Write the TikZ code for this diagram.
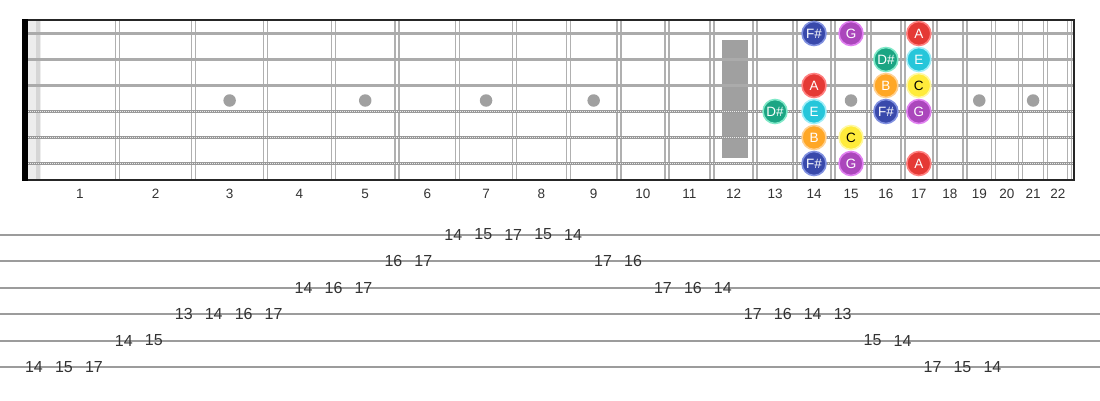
\documentclass[tikz,border=0pt]{standalone}
\usepackage{fontspec}
\setmainfont{Liberation Sans}
\definecolor{fretc}{HTML}{B0B0B0}
\definecolor{markc}{HTML}{A0A0A0}
\definecolor{strc}{HTML}{ABABAB}
\definecolor{tabc}{HTML}{9C9C9C}
\definecolor{txtc}{HTML}{333333}
\definecolor{cFs}{HTML}{3949AB}\definecolor{rFs}{HTML}{8090E0}
\definecolor{cG}{HTML}{AB47BC}\definecolor{rG}{HTML}{E080F0}
\definecolor{cA}{HTML}{E53935}\definecolor{rA}{HTML}{FF8080}
\definecolor{cDs}{HTML}{1BA583}\definecolor{rDs}{HTML}{80E8C8}
\definecolor{cE}{HTML}{26C6DA}\definecolor{rE}{HTML}{A0EEF8}
\definecolor{cB}{HTML}{FFA726}\definecolor{rB}{HTML}{FFD090}
\definecolor{cC}{HTML}{FFEB3B}\definecolor{rC}{HTML}{FFF8A0}
\tikzset{
  declare function={fretx(\n)=37.5+1435*(1-pow(2,-\n/12));
                    midx(\n)=(\n==1)?80:(fretx(\n)+fretx(\n-1))/2;},
  fretline/.style={draw=fretc,line width=1.4pt},
  plainstring/.style={draw=strc,line width=2.6pt},
  woundstring/.style={draw=gray!80,line width=3.4pt},
  woundtex/.style={draw=white!85!gray,line width=1.3pt,dash pattern=on 0.8pt off 1.2pt},
  inlay/.style={circle,fill=markc,inner sep=0pt,minimum size=12.5pt},
  notebox/.style={circle,inner sep=0pt,minimum size=24pt,line width=1.6pt,font=\fontsize{13.5}{13.5}\selectfont,text=white},
  fretlabel/.style={font=\fontsize{13.5}{13.5}\selectfont,text=txtc},
  tabline/.style={draw=tabc,line width=2pt},
  tabnum/.style={font=\fontsize{16}{16}\selectfont,text=txtc,inner sep=0pt},
}
\begin{document}
\begin{tikzpicture}[x=1pt,y=-1pt]
\useasboundingbox (0,0) rectangle (1100,400);
% nut strip
\fill[gray!14] (28,20) rectangle (41,180);
\fill[gray!32] (35.5,20) rectangle (40,180);
% frets
\foreach \n in {1,...,22}{
  \pgfmathsetmacro\fx{fretx(\n)}
  \draw[fretline] (\fx-2,20) -- (\fx-2,180);
  \draw[fretline] (\fx+2,20) -- (\fx+2,180);
  \pgfmathsetmacro\mx{midx(\n)}
  \node[fretlabel] (fl\n) at (\mx,194) {\n};
}
% inlays
\foreach \n in {3,5,7,9,15,19,21}{
  \pgfmathsetmacro\mx{midx(\n)}
  \node[inlay] (dot\n) at (\mx,100.5) {};
}
\fill[markc] (722,40) rectangle (748,158);
% strings
\foreach \s in {1,2,3}{
  \draw[plainstring] (28,{33.5+26*(\s-1)}) -- (1074,{33.5+26*(\s-1)});
}
\foreach \s in {4,5,6}{
  \draw[woundstring] (28,{33.5+26*(\s-1)}) -- (1074,{33.5+26*(\s-1)});
  \draw[woundtex] (28,{33.5+26*(\s-1)}) -- (1074,{33.5+26*(\s-1)});
}
% borders
\draw[black!85,line width=1.6pt] (22,20) -- (1074,20);
\draw[black!85,line width=1.6pt] (22,180) -- (1074,180);
\draw[black!85,line width=2pt] (1074,19.2) -- (1074,180.8);
\fill[black] (22,19.2) rectangle (28,180.8);
% notes
\foreach \s/\f/\c/\t [count=\i] in {1/14/Fs/F\#,1/15/G/G,1/17/A/A,
   2/16/Ds/D\#,2/17/E/E,
   3/14/A/A,3/16/B/B,
   4/13/Ds/D\#,4/14/E/E,4/16/Fs/F\#,4/17/G/G,
   5/14/B/B,
   6/14/Fs/F\#,6/15/G/G,6/17/A/A}{
  \pgfmathsetmacro\mx{midx(\f)}
  \node[notebox,fill=c\c,draw=r\c] (note\i) at (\mx,{33.5+26*(\s-1)}) {\t};
}
\node[notebox,fill=cC,draw=rC,text=black] (noteC1) at ({midx(17)},85.5) {C};
\node[notebox,fill=cC,draw=rC,text=black] (noteC2) at ({midx(15)},137.5) {C};
% tab
\foreach \s in {1,...,6}{
  \draw[tabline] (0,{234.5+26.5*(\s-1)}) -- (1100,{234.5+26.5*(\s-1)});
}
\foreach \k/\s/\f in {0/6/14,1/6/15,2/6/17,3/5/14,4/5/15,5/4/13,6/4/14,7/4/16,8/4/17,
  9/3/14,10/3/16,11/3/17,12/2/16,13/2/17,14/1/14,15/1/15,16/1/17,17/1/15,18/1/14,
  19/2/17,20/2/16,21/3/17,22/3/16,23/3/14,24/4/17,25/4/16,26/4/14,27/4/13,
  28/5/15,29/5/14,30/6/17,31/6/15,32/6/14}{
  \node[tabnum] (tab\k) at ({34+29.95*\k},{234.5+26.5*(\s-1)}) {\f};
}
\end{tikzpicture}
\end{document}
